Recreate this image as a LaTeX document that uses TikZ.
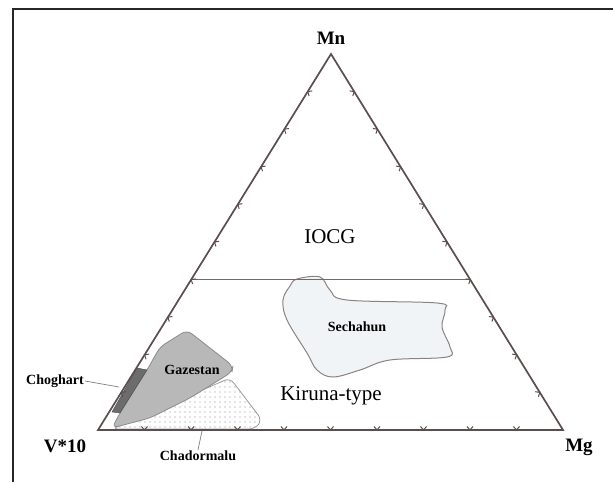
\documentclass[tikz,border=0pt]{standalone}
\usepackage{fontspec}
\setmainfont{Liberation Serif}
\usetikzlibrary{calc,patterns.meta}

\definecolor{edgegray}{HTML}{5A4E4E}
\definecolor{fieldgray}{HTML}{B8B8B8}
\definecolor{blobfill}{HTML}{F1F4F6}
\definecolor{blobline}{HTML}{8C8282}
\definecolor{chogfill}{HTML}{6C6C6C}

\tikzset{
  edge/.style={draw=edgegray, line width=1.7pt},
  tickmark/.style={draw=edgegray, line width=1pt},
  leader/.style={draw=gray, line width=0.7pt},
  corner/.style={font=\bfseries\fontsize{19}{19}\selectfont, inner sep=1pt},
  region/.style={font=\fontsize{21}{21}\selectfont, inner sep=1pt},
  field/.style={font=\bfseries\fontsize{14}{14}\selectfont, inner sep=1pt},
}

\begin{document}
\begin{tikzpicture}[x=1pt,y=1pt]
        \useasboundingbox (0,0) rectangle (613,482);
        \draw[line width=2.2pt, draw=black!85] (13,0) -- (13,473) -- (613,473);

        \coordinate (V) at (98,52);
        \coordinate (Mg) at (563,52);
        \coordinate (Mn) at (331,428);

        \draw[draw=gray!80, line width=0.8pt, rounded corners=6, pattern={Dots[distance=5pt,radius=0.6pt]}, pattern color=gray!90]
            (230,104) -- (262,62) -- (255,53) -- (112,53) -- cycle;
        \node[field] (chad) at (198,26) {Chadormalu};

        \draw[draw=gray!90, line width=0.8pt, fill=fieldgray, rounded corners=6]
            (187,152) -- (233,116) -- (232,110) -- (190,84) -- (150,64) -- (112,54)
            -- (120,69) -- (147,112) -- (160,135) -- cycle;
        \node[field] (gaz) at (192,112) {Gazestan};

        \draw[draw=chogfill!70!black, fill=chogfill] (137,114) -- (147,112) -- (120,69) -- (112,70) -- cycle;
        \node[field] (chog) at (55,101) {Choghart};

        \draw[draw=blobline, fill=blobfill, line width=1pt] plot[smooth cycle, tension=0.6] coordinates {
            (297,203) (320,205) (330,192) (347,182) (437,179) (445,172) (442,155) (450,135)
            (447,125) (390,122) (360,112) (333,105) (317,112) (307,129) (287,162) (283,182) (290,196)};
        \node[field] (sech) at (357,155) {Sechahun};

        \draw[edge] (V) -- (Mn) -- (Mg) -- cycle;
        \coordinate (L) at ($(V)!0.4!(Mn)$);
        \coordinate (R) at ($(Mg)!0.4!(Mn)$);
        \draw[edge, draw=edgegray!85] (L) -- (R);

        \foreach \i in {1,...,9}{
            \draw[tickmark, shift={($(V)!\i/10!(Mn)$)}, rotate=58.2] (-3,-3.5) -- (0,0) -- (3,-3.5);
            \draw[tickmark, shift={($(Mn)!\i/10!(Mg)$)}, rotate=-58.3] (-3,-3.5) -- (0,0) -- (3,-3.5);
            \draw[tickmark, shift={($(V)!\i/10!(Mg)$)}, rotate=180] (-3,-3.5) -- (0,0) -- (3,-3.5);
        }

        \node[corner] (mn) at (331,444) {Mn};
        \node[corner] (v10) at (65,36) {V*10};
        \node[corner] (mg) at (579,35) {Mg};
        \node[region] (iocg) at (330,245) {IOCG};
        \node[region] (kir) at (331,86) {Kiruna-type};

        \coordinate (chogend) at (119,95);
        \coordinate (chadend) at (202,51);
        \draw[leader] (chog.east) -- (chogend);
        \draw[leader] (chad.north) -- (chadend);
    \end{tikzpicture}
\end{document}
